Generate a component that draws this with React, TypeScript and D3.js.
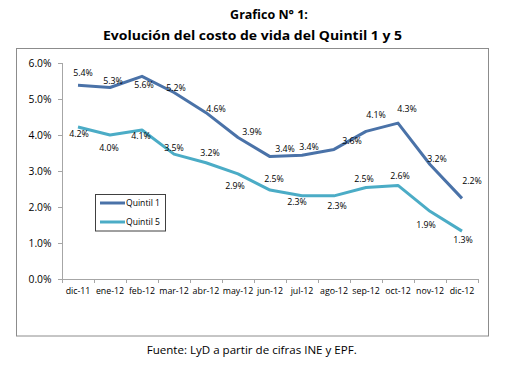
import React from "react";
import * as d3 from "d3";

const categories = ["dic-11","ene-12","feb-12","mar-12","abr-12","may-12","jun-12","jul-12","ago-12","sep-12","oct-12","nov-12","dic-12"];
const quintil1 = [5.38,5.32,5.63,5.18,4.62,3.93,3.4,3.44,3.6,4.1,4.33,3.18,2.24];
const quintil5 = [4.22,4.0,4.14,3.47,3.23,2.92,2.47,2.31,2.31,2.54,2.6,1.88,1.33];
const yTicks = [0,1,2,3,4,5,6];
const seriesNames = ["Quintil 1","Quintil 5"];

// label offsets (pixels) relative to each point
const q1Offsets: [number, number][] = [[5,-12],[3,-6],[2,9],[2,-5],[10,-4],[14,-6],[15,-8],[7,-8],[18,-8],[10,-16],[9,-14],[7,-6],[10,-17]];
const q5Offsets: [number, number][] = [[1,7],[-1,13],[-1,6],[0,-6],[4,-10],[-3,12],[4,-11],[-5,6],[3,10],[-2,-9],[2,-9],[-4,14],[1,9]];

const FONT = "'Open Sans', 'Noto Sans', sans-serif";
const C1 = "#4A72A8";
const C5 = "#4BACC6";

export default function App() {
  const W = 505, H = 383;
  const x0 = 62, x1 = 478, yTop = 63, yBot = 279;
  const xBand = d3.scaleBand<string>().domain(categories).range([x0, x1]).padding(0);
  const y = d3.scaleLinear().domain([0, 6]).range([yBot, yTop]);
  const cx = (c: string) => (xBand(c) as number) + xBand.bandwidth() / 2;
  const line = d3.line<number>().x((_, i) => cx(categories[i])).y(d => y(d));
  const series = [
    { name: seriesNames[0], values: quintil1, color: C1, offs: q1Offsets },
    { name: seriesNames[1], values: quintil5, color: C5, offs: q5Offsets },
  ];
  const boundaries = d3.range(categories.length + 1).map(i => x0 + i * xBand.bandwidth());

  return (
    <svg width={W} height={H} style={{ position: "absolute", left: 0, top: 0, background: "#fff" }}>
      <rect x={0} y={0} width={W} height={H} fill="#fff" />
      <text x={269} y={14} textAnchor="middle" dominantBaseline="central" fontFamily={FONT} fontWeight="bold" fontSize={12.5} fill="#000">Grafico N° 1:</text>
      <text x={252.5} y={35} textAnchor="middle" dominantBaseline="central" fontFamily={FONT} fontWeight="bold" fontSize={12.5} fill="#000" textLength={299} lengthAdjust="spacingAndGlyphs">Evolución del costo de vida del Quintil 1 y 5</text>

      <rect x={16.5} y={48.5} width={472} height={287.5} fill="#fff" stroke="#8c8c8c" strokeWidth={1} />

      {/* y axis */}
      <line x1={x0 + 0.5} x2={x0 + 0.5} y1={yTop} y2={yBot} stroke="#a6a6a6" strokeWidth={1} />
      {yTicks.map(t => (
        <g key={t}>
          <line x1={x0 - 4} x2={x0} y1={Math.round(y(t)) + 0.5} y2={Math.round(y(t)) + 0.5} stroke="#a6a6a6" />
          <text x={51.5} y={y(t)} textAnchor="end" dominantBaseline="central" fontFamily={FONT} fontSize={10.3} fill="#000">{t.toFixed(1)}%</text>
        </g>
      ))}
      {/* x axis */}
      <line x1={x0} x2={x1} y1={yBot + 0.5} y2={yBot + 0.5} stroke="#a6a6a6" strokeWidth={1} />
      {boundaries.map((b, i) => (
        <line key={i} x1={Math.round(b) + 0.5} x2={Math.round(b) + 0.5} y1={yBot} y2={yBot + 4} stroke="#a6a6a6" />
      ))}
      {categories.map(c => (
        <text key={c} x={cx(c)} y={291} textAnchor="middle" dominantBaseline="central" fontFamily={FONT} fontSize={8.8} fill="#000">{c}</text>
      ))}

      {series.map(s => (
        <path key={s.name} d={line(s.values) as string} fill="none" stroke={s.color} strokeWidth={3} strokeLinejoin="round" />
      ))}
      {series.map(s => s.values.map((v, i) => (
        <text key={s.name + i} x={cx(categories[i]) + s.offs[i][0]} y={y(v) + s.offs[i][1]} textAnchor="middle" dominantBaseline="central" fontFamily={FONT} fontSize={8.8} fill="#000">{v.toFixed(1)}%</text>
      )))}

      {/* legend */}
      <rect x={95.5} y={194.5} width={70} height={36.5} fill="#fff" stroke="#404040" strokeWidth={1} />
      {series.map((s, i) => (
        <g key={s.name}>
          <line x1={100} x2={125} y1={203 + i * 19} y2={203 + i * 19} stroke={s.color} strokeWidth={3} />
          <text x={126} y={203 + i * 19} dominantBaseline="central" fontFamily={FONT} fontSize={8.6} fill="#000">{s.name}</text>
        </g>
      ))}

      <text x={251.7} y={350} textAnchor="middle" dominantBaseline="central" fontFamily={FONT} fontSize={10} fill="#000" textLength={210} lengthAdjust="spacingAndGlyphs">Fuente: LyD a partir de cifras INE y EPF.</text>
    </svg>
  );
}
